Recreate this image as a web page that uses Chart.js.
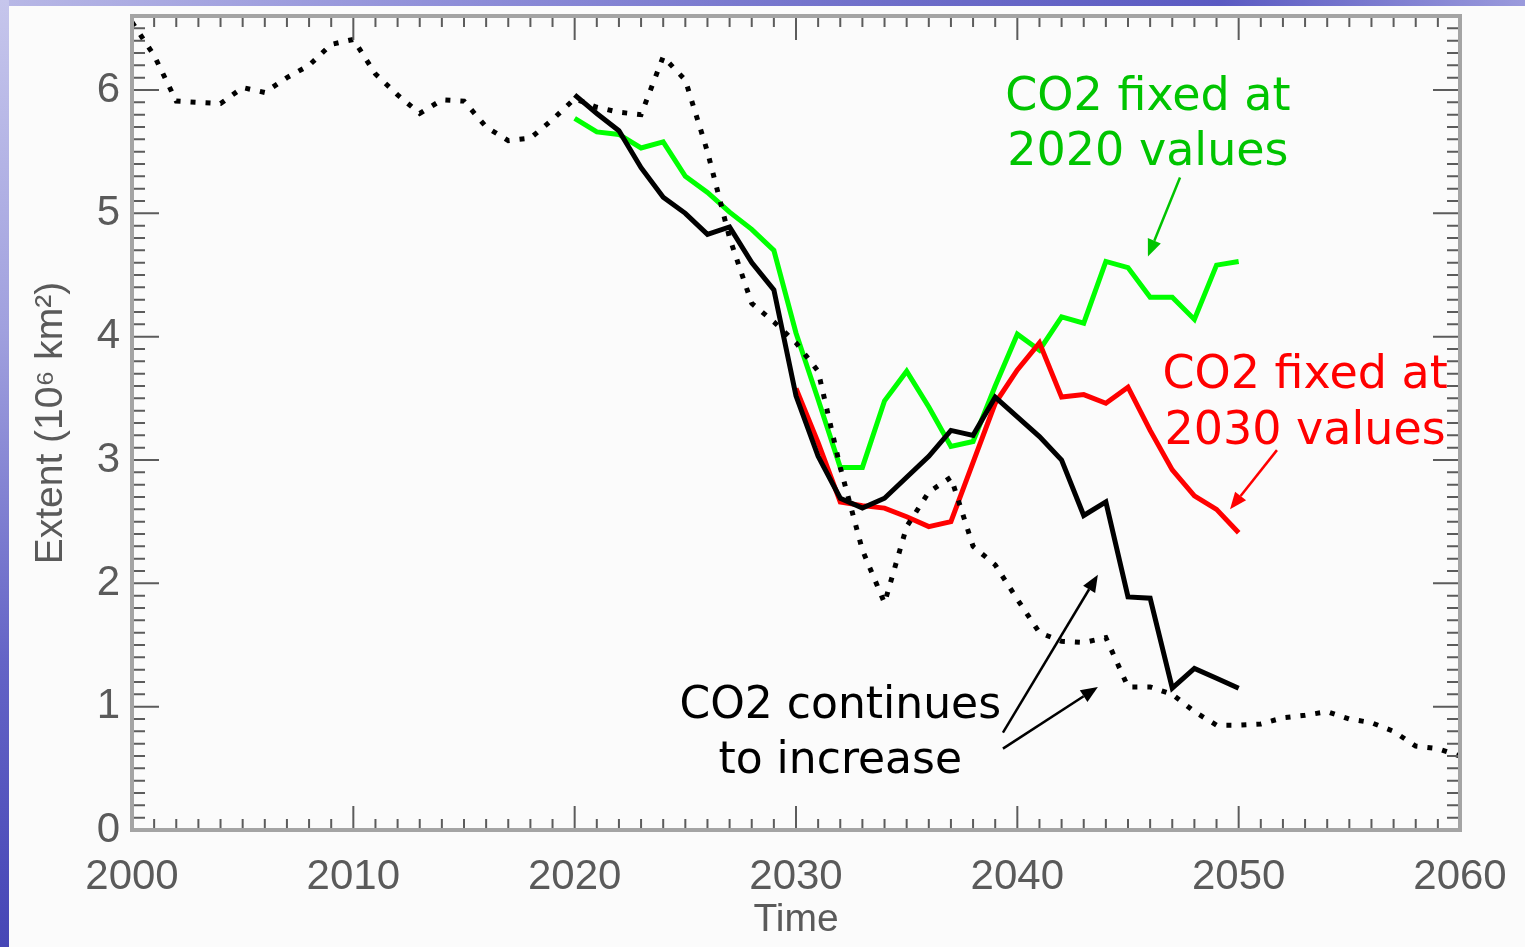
<!DOCTYPE html>
<html>
<head>
<meta charset="utf-8">
<title>Arctic sea ice extent scenarios</title>
<script src="https://cdn.jsdelivr.net/npm/chart.js@4.4.0/dist/chart.umd.min.js"></script>
<style>
  html, body { margin: 0; padding: 0; }
  body { width: 1525px; height: 947px; background: #fbfbfb; position: relative; overflow: hidden; }
  #topBand { position: absolute; left: 0; top: 0; width: 1525px; height: 6px;
    background: linear-gradient(90deg, #b8b8e6, #8e8ed8 30%, #6c6cc8 60%, #5a5ac2 80%, #9a9adc); }
  #leftBand { position: absolute; left: 0; top: 0; width: 9px; height: 947px;
    background: linear-gradient(180deg, #c6c6ec, #a0a0de 35%, #6464c6 70%, #4646b6); }
  #chart { position: absolute; left: 0; top: 0; }
</style>
</head>
<body>
<div id="topBand"></div>
<div id="leftBand"></div>
<canvas id="chart" width="1525" height="947"></canvas>
<script>
// years for the dotted run (2000-2060)
const years = [2000, 2001, 2002, 2003, 2004, 2005, 2006, 2007, 2008, 2009,
               2010, 2011, 2012, 2013, 2014, 2015, 2016, 2017, 2018, 2019,
               2020, 2021, 2022, 2023, 2024, 2025, 2026, 2027, 2028, 2029,
               2030, 2031, 2032, 2033, 2034, 2035, 2036, 2037, 2038, 2039,
               2040, 2041, 2042, 2043, 2044, 2045, 2046, 2047, 2048, 2049,
               2050, 2051, 2052, 2053, 2054, 2055, 2056, 2057, 2058, 2059, 2060];
// extent, 10^6 km^2
const dottedRun = [6.55, 6.28, 5.91, 5.90, 5.89, 6.02, 5.98, 6.10, 6.20, 6.37,
                   6.41, 6.13, 5.96, 5.81, 5.92, 5.91, 5.70, 5.59, 5.61, 5.76,
                   5.93, 5.86, 5.82, 5.80, 6.27, 6.08, 5.50, 4.80, 4.27, 4.12,
                   3.95, 3.72, 2.94, 2.27, 1.84, 2.46, 2.74, 2.86, 2.30, 2.15,
                   1.87, 1.60, 1.53, 1.52, 1.56, 1.16, 1.16, 1.10, 0.96, 0.85,
                   0.85, 0.86, 0.91, 0.93, 0.96, 0.90, 0.87, 0.80, 0.68, 0.66, 0.60];

const scenarioYears = years.slice(20, 51);   // 2020-2050
const co2Increasing = [5.96, 5.81, 5.67, 5.37, 5.13, 5.00, 4.83, 4.89, 4.60, 4.38,
                       3.52, 3.03, 2.69, 2.61, 2.69, 2.86, 3.03, 3.24, 3.20, 3.51,
                       3.35, 3.19, 3.00, 2.55, 2.66, 1.89, 1.88, 1.15, 1.31, 1.23, 1.15];
const co2Fixed2020 = [5.77, 5.66, 5.64, 5.53, 5.58, 5.30, 5.17, 5.01, 4.87, 4.70,
                      4.03, 3.49, 2.94, 2.94, 3.48, 3.72, 3.43, 3.11, 3.15, 3.60,
                      4.02, 3.89, 4.16, 4.11, 4.61, 4.56, 4.32, 4.32, 4.14, 4.58, 4.61];

const fixed2030Years = years.slice(30, 51);  // 2030-2050
const co2Fixed2030 = [3.58, 3.14, 2.66, 2.63, 2.61, 2.54, 2.46, 2.50, 2.98, 3.46,
                      3.73, 3.95, 3.51, 3.53, 3.46, 3.59, 3.24, 2.92, 2.71, 2.60, 2.41];

const xTicks = [2000, 2010, 2020, 2030, 2040, 2050, 2060];
const yTicks = [0, 1, 2, 3, 4, 5, 6];

// annotation text and arrows, in data units (year, extent)
const notes = [
  { lines: ['CO2 fixed at', '2020 values'], x: 2045.9, y: [5.84, 5.39], color: '#00c400', size: 46 },
  { lines: ['CO2 fixed at', '2030 values'], x: 2053.0, y: [3.58, 3.13], color: '#ff0000', size: 46 },
  { lines: ['CO2 continues', 'to increase'], x: 2032.0, y: [0.91, 0.46], color: '#000000', size: 44 }
];
const arrows = [
  { from: [2047.35, 5.29], to: [2045.90, 4.65], color: '#00c400' },
  { from: [2051.73, 3.08], to: [2049.61, 2.60], color: '#ff0000' },
  { from: [2039.35, 0.79], to: [2043.64, 2.07], color: '#000000' },
  { from: [2039.35, 0.66], to: [2043.64, 1.16], color: '#000000' }
];

function toPoints(xs, ys) {
  return ys.map((v, i) => ({ x: xs[i], y: v }));
}

function drawArrow(ctx, x0, y0, x1, y1, color) {
  let ang = Math.atan2(y1 - y0, x1 - x0);
  let head = 17, half = 7;
  ctx.strokeStyle = color;
  ctx.fillStyle = color;
  ctx.lineWidth = 2.5;
  ctx.beginPath();
  ctx.moveTo(x0, y0);
  ctx.lineTo(x1 - Math.cos(ang) * head, y1 - Math.sin(ang) * head);
  ctx.stroke();
  ctx.beginPath();
  ctx.moveTo(x1, y1);
  ctx.lineTo(x1 - Math.cos(ang) * head - Math.sin(ang) * half, y1 - Math.sin(ang) * head + Math.cos(ang) * half);
  ctx.lineTo(x1 - Math.cos(ang) * head + Math.sin(ang) * half, y1 - Math.sin(ang) * head - Math.cos(ang) * half);
  ctx.closePath();
  ctx.fill();
}

// IDL style box with inward ticks on all four sides
const framePlugin = {
  id: 'frame',
  afterDatasetsDraw(chart) {
    const { ctx, chartArea: a, scales: { x, y } } = chart;
    ctx.save();
    ctx.strokeStyle = '#5c5c5c';
    ctx.lineWidth = 2;
    ctx.beginPath();
    for (let v = x.min; v <= x.max; v++) {
      let px = x.getPixelForValue(v);
      let len = v % 10 === 0 ? 24 : 11;
      ctx.moveTo(px, a.bottom); ctx.lineTo(px, a.bottom - len);
      ctx.moveTo(px, a.top); ctx.lineTo(px, a.top + len);
    }
    for (let i = 0; i <= 66; i++) {
      let py = y.getPixelForValue(i / 10);
      let len = i % 10 === 0 ? 27 : 13;
      ctx.moveTo(a.left, py); ctx.lineTo(a.left + len, py);
      ctx.moveTo(a.right, py); ctx.lineTo(a.right - len, py);
    }
    ctx.stroke();
    ctx.strokeStyle = '#a4a4a4';
    ctx.lineWidth = 4;
    ctx.strokeRect(a.left, a.top, a.right - a.left, a.bottom - a.top);
    ctx.restore();
  },
  afterDraw(chart) {
    const { ctx, scales: { x, y } } = chart;
    ctx.save();
    for (let n of notes) {
      ctx.font = n.size + 'px "Comic Sans MS", "DejaVu Sans", sans-serif';
      ctx.fillStyle = n.color;
      ctx.textAlign = 'center';
      ctx.textBaseline = 'alphabetic';
      n.lines.forEach((t, i) => ctx.fillText(t, x.getPixelForValue(n.x), y.getPixelForValue(n.y[i])));
    }
    for (let ar of arrows) {
      drawArrow(ctx,
        x.getPixelForValue(ar.from[0]), y.getPixelForValue(ar.from[1]),
        x.getPixelForValue(ar.to[0]), y.getPixelForValue(ar.to[1]), ar.color);
    }
    ctx.restore();
  }
};

const axisFont = { family: '"Liberation Sans", Arial, sans-serif', size: 42 };

new Chart(document.getElementById('chart'), {
  type: 'line',
  data: {
    datasets: [
      { label: 'dotted run', data: toPoints(years, dottedRun), borderColor: '#000',
        borderWidth: 5, borderDash: [5, 10] },
      { label: 'CO2 continues to increase', data: toPoints(scenarioYears, co2Increasing),
        borderColor: '#000', borderWidth: 5 },
      { label: 'CO2 fixed at 2030 values', data: toPoints(fixed2030Years, co2Fixed2030),
        borderColor: '#ff0000', borderWidth: 5 },
      { label: 'CO2 fixed at 2020 values', data: toPoints(scenarioYears, co2Fixed2020),
        borderColor: '#00ff00', borderWidth: 5 }
    ]
  },
  options: {
    responsive: false,
    animation: false,
    devicePixelRatio: 1,
    layout: { padding: { left: 0, top: 16, right: 65, bottom: 0 } },
    elements: { point: { radius: 0 }, line: { tension: 0 } },
    plugins: { legend: { display: false }, tooltip: { enabled: false } },
    scales: {
      x: {
        type: 'linear', min: 2000, max: 2060,
        afterBuildTicks: s => { s.ticks = xTicks.map(v => ({ value: v })); },
        afterFit: s => { s.height = 117; s.paddingLeft = 0; s.paddingRight = 0; },
        ticks: { font: axisFont, color: '#5a5a5a', padding: 22, maxRotation: 0,
                 callback: v => String(v) },
        grid: { display: false, drawTicks: false },
        border: { display: false },
        title: { display: true, text: 'Time', font: { family: '"Liberation Sans", Arial, sans-serif', size: 39 },
                 color: '#5a5a5a', padding: { top: 0, bottom: 3 } }
      },
      y: {
        type: 'linear', min: 0, max: 6.6,
        afterBuildTicks: s => { s.ticks = yTicks.map(v => ({ value: v })); },
        afterFit: s => { s.width = 132; s.paddingTop = 0; s.paddingBottom = 0; },
        ticks: { font: axisFont, color: '#5a5a5a', padding: 12 },
        grid: { display: false, drawTicks: false },
        border: { display: false },
        title: { display: true, text: 'Extent (10\u2076 km\u00b2)', font: { family: '"Liberation Sans", Arial, sans-serif', size: 39 },
                 color: '#5a5a5a', padding: { top: 28, bottom: 0 } }
      }
    }
  },
  plugins: [framePlugin]
});
</script>
</body>
</html>
